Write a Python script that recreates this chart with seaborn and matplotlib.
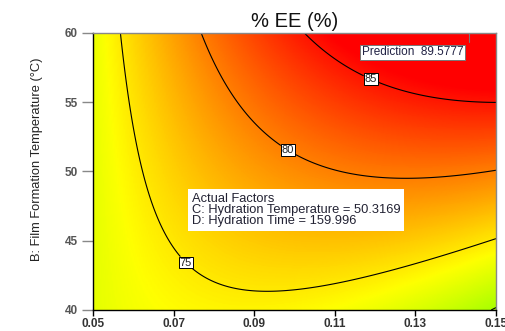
import numpy as np
import matplotlib
matplotlib.use("Agg")
import matplotlib.pyplot as plt
import seaborn as sns
from matplotlib.colors import LinearSegmentedColormap

# ---- data ----
x_range = [0.05, 0.15]          # A (coded -1..+1)
y_range = [40, 60]              # B: Film Formation Temperature
# quadratic response-surface coefficients (coded units): b0, A, B, AB, A^2, B^2
coef_names = ["b0", "A", "B", "AB", "A2", "B2"]
coef_values = [79.345, 3.528, 5.159, 5.008, -2.965, 0.084]
contour_levels = [70, 75, 80, 85]
label_positions = [(0.0733, 43.5), (0.0986, 51.7), (0.1192, 56.8)]
x_ticks = [0.05, 0.07, 0.09, 0.11, 0.13, 0.15]
x_tick_labels = ["0.05", "0.07", "0.09", "0.11", "0.13", "0.15"]
y_ticks = [40, 45, 50, 55, 60]
y_tick_labels = ["40", "45", "50", "55", "60"]
title = "% EE (%)"
y_label = "B: Film Formation Temperature (\u00b0C)"
prediction_text = "Prediction  89.5777"
factor_lines = ["Actual Factors",
                "C: Hydration Temperature = 50.3169",
                "D: Hydration Time = 159.996"]

sns.set_theme(style="white")
plt.rcParams["font.family"] = ["Liberation Sans", "DejaVu Sans"]

fig = plt.figure(figsize=(5.06, 3.31), dpi=100)
ax = fig.add_axes([93 / 506, 1 - 310 / 331, (496 - 93) / 506, (310 - 33) / 331])

xs = np.linspace(x_range[0], x_range[1], 300)
ys = np.linspace(y_range[0], y_range[1], 300)
X, Y = np.meshgrid(xs, ys)
a = (X - 0.10) / 0.05
b = (Y - 50) / 10
c = dict(zip(coef_names, coef_values))
Z = (c["b0"] + c["A"] * a + c["B"] * b + c["AB"] * a * b
     + c["A2"] * a ** 2 + c["B2"] * b ** 2)

cmap = LinearSegmentedColormap.from_list(
    "de", [(0.0, "#00ff00"), (12 / 26, "#ffff00"), (24 / 26, "#ff0000"), (1.0, "#ff0000")])
ax.pcolormesh(X, Y, Z, cmap=cmap, vmin=62, vmax=88, shading="gouraud", rasterized=True)
cs = ax.contour(X, Y, Z, levels=contour_levels, colors="black", linewidths=0.8)
labels = ax.clabel(cs, manual=label_positions, fmt="%d",
                   fontsize=8, inline=True, inline_spacing=2)
for t in labels:
    t.set_bbox(dict(facecolor="white", edgecolor="black", linewidth=0.7, pad=0.6))
    t.set_color("#222222")
    t.set_rotation(0)

ax.set_xlim(x_range)
ax.set_ylim(y_range)
ax.set_xticks(x_ticks)
ax.set_xticklabels(x_tick_labels, fontsize=8.5, fontweight="bold", color="#333333")
ax.set_yticks(y_ticks)
ax.set_yticklabels(y_tick_labels, fontsize=8.5, fontweight="bold", color="#555555")
ax.tick_params(axis="x", direction="out", length=4, width=1, color="black", pad=2, bottom=True)
ax.tick_params(axis="y", direction="out", length=8, width=1, color="#888888", pad=3, left=True)
ax.set_ylabel(y_label, fontsize=9.3, color="#222222")
ax.yaxis.set_label_coords(-0.125, 0.545)
ax.set_title(title, fontsize=14.5, color="#111111", pad=4)

for side in ["left", "bottom"]:
    ax.spines[side].set_color("black")
    ax.spines[side].set_linewidth(1)
for side in ["top", "right"]:
    ax.spines[side].set_color("#888888")
    ax.spines[side].set_linewidth(1)

# prediction flag
ax.text(0.1419, 58.6, prediction_text, ha="right", va="center", fontsize=8.5, color="#222244",
        bbox=dict(facecolor="white", edgecolor="#777777", linewidth=0.7, pad=1.2))
ax.plot([0.1432, 0.1432], [59.35, 60], color="#777777", linewidth=0.8)

# actual factors box
ax.text(0.0745, 48.45, "\n".join(factor_lines), ha="left", va="top", fontsize=9.3,
        color="#222233", linespacing=0.9,
        bbox=dict(facecolor="white", edgecolor="none", pad=2.5))

fig.savefig("out.png", dpi=100)
